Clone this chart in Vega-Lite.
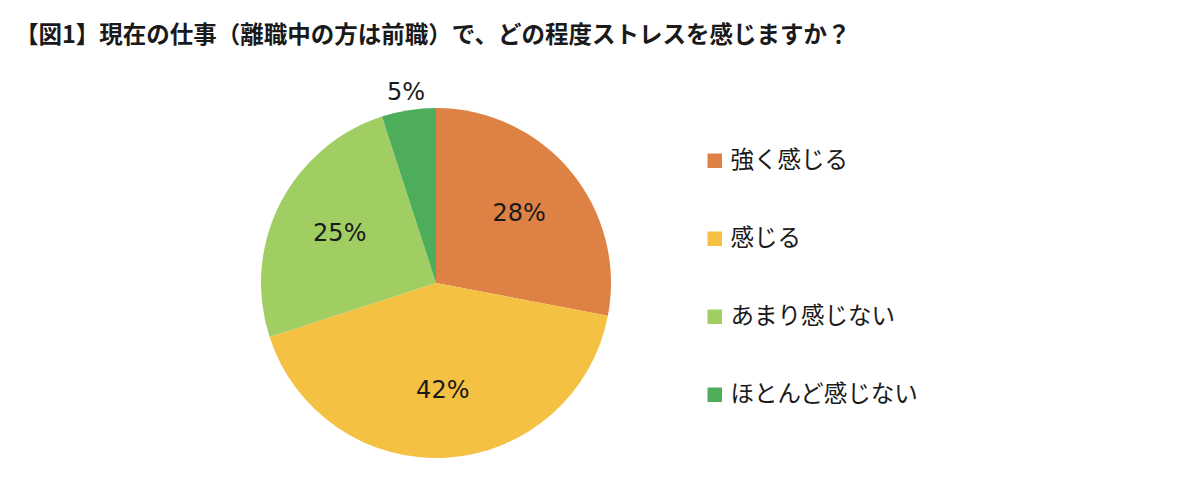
{
  "$schema": "https://vega.github.io/schema/vega-lite/v6.json",
  "width": 872,
  "height": 420,
  "autosize": {"type": "none"},
  "padding": {"left": 0, "top": 73, "right": 329, "bottom": 0},
  "background": "white",
  "title": {
    "text": "【図1】現在の仕事（離職中の方は前職）で、どの程度ストレスを感じますか？",
    "anchor": "start",
    "frame": "group",
    "dx": 15,
    "offset": 26,
    "font": "Noto Sans CJK JP",
    "fontSize": 23.5,
    "fontWeight": "bold",
    "color": "#1a1a1a"
  },
  "data": {
    "values": [
      {"rank": 1, "answer": "強く感じる", "value": 28},
      {"rank": 2, "answer": "感じる", "value": 42},
      {"rank": 3, "answer": "あまり感じない", "value": 25},
      {"rank": 4, "answer": "ほとんど感じない", "value": 5}
    ]
  },
  "transform": [
    {"calculate": "datum.value + '%'", "as": "label"}
  ],
  "encoding": {
    "theta": {"field": "value", "type": "quantitative", "stack": true},
    "order": {"field": "rank", "type": "quantitative"}
  },
  "layer": [
    {
      "mark": {"type": "arc", "outerRadius": 175},
      "encoding": {
        "color": {
          "field": "answer",
          "type": "nominal",
          "sort": null,
          "scale": {
            "domain": ["強く感じる", "感じる", "あまり感じない", "ほとんど感じない"],
            "range": ["#DD8244", "#F4C142", "#A1CE63", "#4EAD5B"]
          },
          "legend": {
            "title": null,
            "orient": "none",
            "legendX": 703,
            "legendY": 76,
            "symbolType": "square",
            "symbolSize": 210,
            "symbolStrokeWidth": 0,
            "labelFont": "Noto Sans CJK JP",
            "labelFontSize": 23.5,
            "labelColor": "#1a1a1a",
            "labelOffset": 4,
            "labelLimit": 400,
            "rowPadding": 53
          }
        }
      }
    },
    {
      "mark": {"type": "text", "radius": 108, "font": "DejaVu Sans", "fontSize": 24, "color": "#1a1a1a"},
      "encoding": {
        "text": {"condition": {"test": "datum.value >= 10", "field": "label"}, "value": ""}
      }
    },
    {
      "mark": {"type": "text", "radius": 192, "font": "DejaVu Sans", "fontSize": 24, "color": "#1a1a1a"},
      "encoding": {
        "text": {"condition": {"test": "datum.value < 10", "field": "label"}, "value": ""}
      }
    }
  ]
}
